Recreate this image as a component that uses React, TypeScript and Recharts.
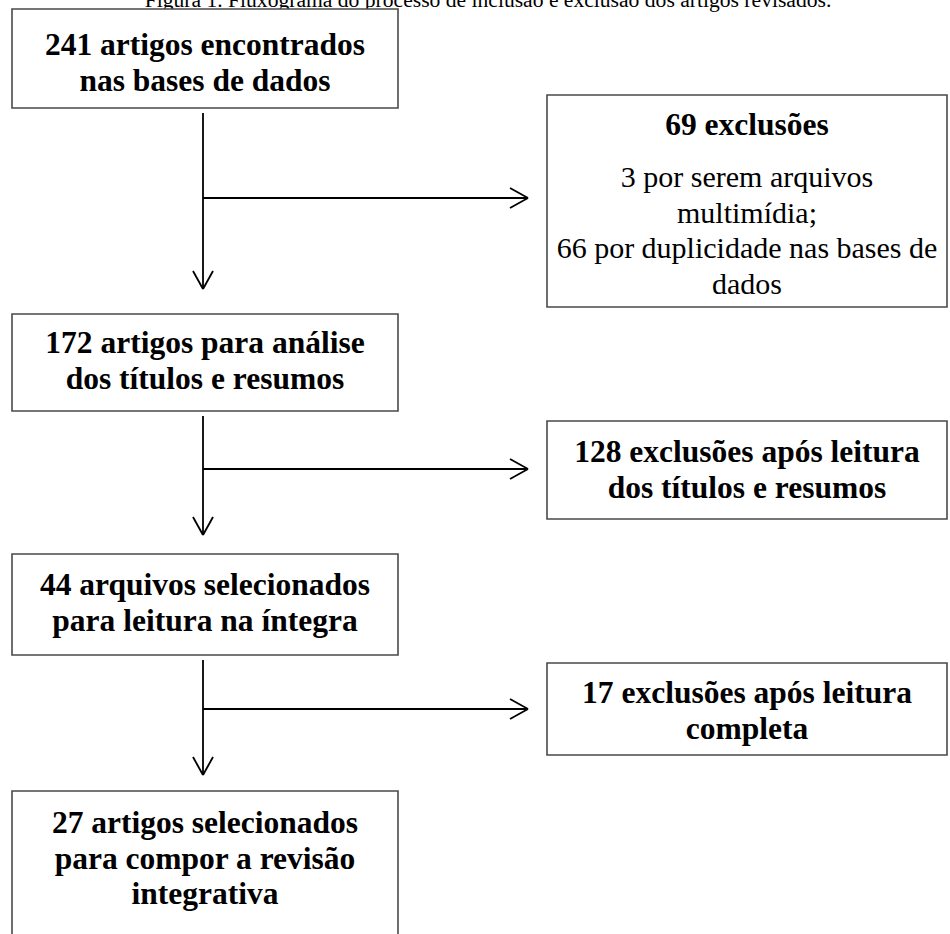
import React from "react";
import { ComposedChart, XAxis, YAxis, ReferenceArea, ReferenceLine } from "recharts";

const CAPTION = "Figura 1. Fluxograma do processo de inclusão e exclusão dos artigos revisados.";

// main flow: counts and the words after them
const stepCounts = [241, 172, 44, 27];
const stepLines = [
  ["artigos encontrados", "nas bases de dados"],
  ["artigos para análise", "dos títulos e resumos"],
  ["arquivos selecionados", "para leitura na íntegra"],
  ["artigos selecionados", "para compor a revisão", "integrativa"],
];

// exclusions on the right
const exclusionCounts = [69, 128, 17];
const exclusionLines = [
  ["exclusões"],
  ["exclusões após leitura", "dos títulos e resumos"],
  ["exclusões após leitura", "completa"],
];
const detailCounts = [3, 66];
const detailLines = [
  ["por serem arquivos", "multimídia;"],
  ["por duplicidade nas bases de", "dados"],
];

// layout (pixels)
const W = 950;
const H = 934;
const MAIN_X = [12, 398];
const SIDE_X = [547, 947];
const MAIN_Y = [[9, 108], [314, 411], [554, 655], [791, 945]];
const SIDE_Y = [[95, 307], [421, 519], [663, 755]];
const MAIN_TEXT_OFFSET = [46, 39, 41, 42];
const SIDE_TEXT_OFFSET = [40, 41, 40];
const FLOW_X = 203;
const ARROW_TIP_Y = [289, 535, 775];
const BRANCH_Y = [198, 469, 709];
const BRANCH_END_X = 528;

const FONT = "'Liberation Serif', 'Times New Roman', serif";
const FS_BOLD = 31.5;
const FS = 30;
const LH = 35.5;
const BOX_STROKE = "#4a4a4a";
const LINE = "#000";

const withCount = (n: number, lines: string[]) => [`${n} ${lines[0]}`, ...lines.slice(1)];

const textBlock = (lines: string[], offset: number) => (props: any) => {
  const { x, y, width } = props.viewBox;
  const cx = x + width / 2;
  return (
    <text x={cx} y={y + offset} textAnchor="middle" fontFamily={FONT} fontSize={FS_BOLD} fontWeight="bold" fill="#000">
      {lines.map((l, i) => (
        <tspan key={i} x={cx} y={y + offset + i * LH}>
          {l}
        </tspan>
      ))}
    </text>
  );
};

const firstSideLabel = (props: any) => {
  const { x, y, width } = props.viewBox;
  const body = detailCounts.flatMap((n, i) => withCount(n, detailLines[i]));
  const cx = x + width / 2;
  return (
    <g>
      <text x={cx} y={y + SIDE_TEXT_OFFSET[0]} textAnchor="middle" fontFamily={FONT} fontSize={FS_BOLD} fontWeight="bold" fill="#000">
        {withCount(exclusionCounts[0], exclusionLines[0])[0]}
      </text>
      <text x={cx} y={y + 92} textAnchor="middle" fontFamily={FONT} fontSize={FS} fill="#000">
        {body.map((l, i) => (
          <tspan key={i} x={cx} y={y + 92 + i * LH}>
            {l}
          </tspan>
        ))}
      </text>
    </g>
  );
};

const captionLabel = () => (
  <text x={488} y={6.5} textAnchor="middle" fontFamily={FONT} fontSize={21.6} fill="#000">
    {CAPTION}
  </text>
);

export default function App() {
  const seg = (x1: number, y1: number, x2: number, y2: number, key: string) => (
    <ReferenceLine
      key={key}
      segment={[{ x: x1, y: y1 }, { x: x2, y: y2 }]}
      stroke={LINE}
      strokeWidth={1.8}
      ifOverflow="visible"
    />
  );

  return (
    <div style={{ position: "absolute", left: 0, top: 0, width: W, height: H, background: "#fff" }}>
      <ComposedChart width={W} height={H} data={[]} margin={{ top: 0, right: 0, bottom: 0, left: 0 }}>
        <XAxis type="number" dataKey="x" domain={[0, W]} hide allowDataOverflow />
        <YAxis type="number" dataKey="y" domain={[0, H]} reversed hide allowDataOverflow />

        <ReferenceArea x1={0} x2={W} y1={0} y2={8} fill="none" stroke="none" ifOverflow="visible" label={captionLabel} />

        {ARROW_TIP_Y.map((tip, i) => [
          seg(FLOW_X, MAIN_Y[i][1] + 5, FLOW_X, tip, `v${i}`),
          seg(FLOW_X, tip, FLOW_X - 10, tip - 18, `va${i}`),
          seg(FLOW_X, tip, FLOW_X + 10, tip - 18, `vb${i}`),
          seg(FLOW_X, BRANCH_Y[i], BRANCH_END_X, BRANCH_Y[i], `h${i}`),
          seg(BRANCH_END_X, BRANCH_Y[i], BRANCH_END_X - 18, BRANCH_Y[i] - 10, `ha${i}`),
          seg(BRANCH_END_X, BRANCH_Y[i], BRANCH_END_X - 18, BRANCH_Y[i] + 10, `hb${i}`),
        ])}

        {stepCounts.map((n, i) => (
          <ReferenceArea
            key={`m${i}`}
            x1={MAIN_X[0]}
            x2={MAIN_X[1]}
            y1={MAIN_Y[i][0]}
            y2={MAIN_Y[i][1]}
            fill="#fff"
            fillOpacity={1}
            stroke={BOX_STROKE}
            strokeWidth={1.6}
            ifOverflow="visible"
            label={textBlock(withCount(n, stepLines[i]), MAIN_TEXT_OFFSET[i])}
          />
        ))}

        {exclusionCounts.map((n, i) => (
          <ReferenceArea
            key={`s${i}`}
            x1={SIDE_X[0]}
            x2={SIDE_X[1]}
            y1={SIDE_Y[i][0]}
            y2={SIDE_Y[i][1]}
            fill="#fff"
            fillOpacity={1}
            stroke={BOX_STROKE}
            strokeWidth={1.6}
            ifOverflow="visible"
            label={i === 0 ? firstSideLabel : textBlock(withCount(n, exclusionLines[i]), SIDE_TEXT_OFFSET[i])}
          />
        ))}
      </ComposedChart>
    </div>
  );
}
